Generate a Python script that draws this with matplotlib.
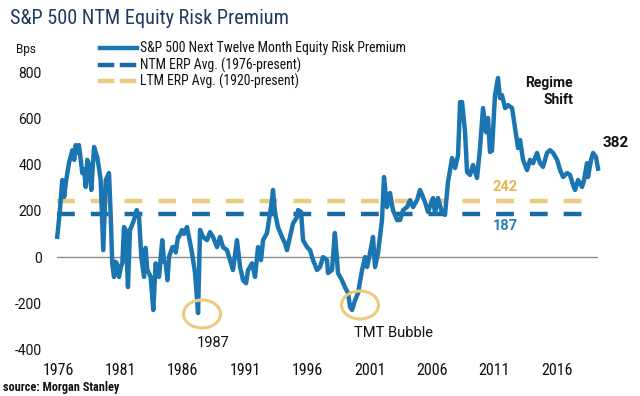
import matplotlib
matplotlib.use("Agg")
import matplotlib.pyplot as plt
from matplotlib.lines import Line2D
from matplotlib.patches import Ellipse
from matplotlib import font_manager

# ---- data ----
years = [
    1975.94, 1976.15, 1976.34, 1976.5, 1976.62, 1976.88, 1977.15, 1977.3, 1977.42, 1977.55, 1977.68,
    1977.95, 1978.1, 1978.22, 1978.35, 1978.49, 1978.67, 1978.89, 1979.15, 1979.3, 1979.42, 1979.63,
    1979.83, 1980.09, 1980.23, 1980.35, 1980.49, 1980.6, 1980.71, 1980.89, 1981.05, 1981.16, 1981.29,
    1981.43, 1981.61, 1981.77, 1981.95, 1982.09, 1982.31, 1982.5, 1982.68, 1982.9, 1983.02,
    1983.16, 1983.3, 1983.43, 1983.64, 1983.83, 1984.1, 1984.36, 1984.5, 1984.64, 1984.78, 1984.9,
    1985.17, 1985.38, 1985.44, 1985.62, 1985.7, 1985.94, 1986.1, 1986.34, 1986.5, 1986.75, 1986.99,
    1987.23, 1987.39, 1987.63, 1987.95, 1988.19, 1988.43, 1988.75, 1988.99, 1989.23, 1989.55,
    1989.79, 1990.03, 1990.35, 1990.6, 1990.84, 1991.08, 1991.24, 1991.56, 1991.8, 1992.04,
    1992.28, 1992.44, 1992.76, 1993.0, 1993.16, 1993.24, 1993.4, 1993.64, 1993.96, 1994.2,
    1994.36, 1994.6, 1994.85, 1995.17, 1995.25, 1995.49, 1995.65, 1995.97, 1996.21, 1996.45,
    1996.77, 1997.01, 1997.25, 1997.57, 1997.65, 1997.97, 1998.2, 1998.36, 1998.45, 1998.77,
    1999.01, 1999.26, 1999.42, 1999.58, 1999.82, 2000.06, 2000.38, 2000.62, 2000.78, 2001.02,
    2001.26, 2001.42, 2001.66, 2001.98, 2002.14, 2002.38, 2002.62, 2002.86, 2003.19, 2003.43,
    2003.67, 2003.99, 2004.23, 2004.47, 2004.79, 2005.03, 2005.43, 2005.67, 2006.07, 2006.23,
    2006.47, 2006.75, 2007.03, 2007.27, 2007.6, 2007.84, 2008.08, 2008.24, 2008.4, 2008.64,
    2008.8, 2009.04, 2009.28, 2009.6, 2009.84, 2010.08, 2010.32, 2010.48, 2010.64, 2010.8,
    2011.04, 2011.28, 2011.44, 2011.6, 2011.85, 2012.09, 2012.41, 2012.65, 2012.89, 2013.05,
    2013.29, 2013.61, 2013.85, 2014.09, 2014.41, 2014.65, 2014.89, 2015.21, 2015.45, 2015.7,
    2016.02, 2016.26, 2016.5, 2016.82, 2017.06, 2017.3, 2017.46, 2017.7, 2018.02, 2018.18,
    2018.42, 2018.5, 2018.74, 2018.9, 2019.14, 2019.3,
]
erp = [
    88, 200, 333, 260, 320, 406, 462, 420, 484, 450, 484,
    363, 380, 303, 420, 400, 290, 476, 432, 380, 333, 30,
    333, 363, 173, -27, -86, -20, -27, -86, -40, -27, 130,
    117, -130, 117, 140, 160, 203, 173, 0, -86, 40,
    -56, -70, -86, -229, -27, -86, 73, -20, -27, -100, 0,
    43, 43, 20, 87, 87, 117, 100, 130, 87, 17, -69,
    -242, 117, 87, 73, 108, 87, 43, 87, 43, 30,
    -13, -56, 73, -43, -100, -113, -56, -27, -86, 43,
    -13, 73, 104, 190, 246, 290, 190, 130, 87, 60,
    30, 87, 146, 173, 203, 195, 73, 43, 30, -13,
    -56, -43, 0, -13, -69, -56, 104, 0, -69, -100,
    -130, -156, -216, -229, -186, -156, -56, 0, -43, 17,
    87, -43, 17, 160, 346, 216, 277, 203, 160, 160,
    203, 216, 246, 216, 246, 290, 238, 195, 255, 190,
    255, 200, 182, 324, 428, 385, 441, 670, 670, 540,
    368, 355, 398, 342, 471, 644, 540, 601, 454, 460,
    700, 774, 687, 700, 644, 657, 644, 558, 471, 506,
    420, 376, 420, 406, 450, 406, 390, 450, 462, 450,
    420, 376, 346, 363, 355, 311, 290, 333, 303, 333,
    406, 346, 420, 450, 432, 382,
]
ntm_avg = 187
ltm_avg = 242
last_value = 382
yticks = [-400, -200, 0, 200, 400, 600, 800]
xticks = [1976, 1981, 1986, 1991, 1996, 2001, 2006, 2011, 2016]

BLUE = '#1b75b1'
DBLUE = '#1a6aa3'
TAN = '#ebcb80'
TANTXT = '#e3b651'
NAVY = '#1f3a60'

names = {f.name for f in font_manager.fontManager.ttflist}
COND = 'Roboto Condensed' if 'Roboto Condensed' in names else None
ROBO = ['Roboto', 'DejaVu Sans']
NARROW = [COND, 'Roboto', 'DejaVu Sans'] if COND else ROBO
t_size = 14.6 if COND else 13.5
l_size = 9.9 if COND else 9.0
x_size = 11.5 if COND else 10.5
s_size = 8.8 if COND else 7.6

plt.rcParams['font.family'] = ROBO

W, H = 640, 396
def fx(x): return x / W
def fy(y): return 1 - y / H

fig = plt.figure(figsize=(6.4, 3.96), dpi=100)
ax = fig.add_axes([fx(57), fy(349.6), fx(598) - fx(57), fy(72) - fy(349.6)])
ax.set_xlim(1975.92, 2019.3)
ax.set_ylim(-400, 800)
for s in ax.spines.values():
    s.set_visible(False)
ax.set_yticks(yticks)
ax.set_yticklabels([str(v) for v in yticks], fontsize=10, color='#111111')
ax.set_xticks(xticks)
ax.set_xticklabels([str(v) for v in xticks], fontsize=x_size, color='#111111', family=NARROW)
ax.tick_params(length=0)
ax.tick_params(axis='y', pad=11)
ax.tick_params(axis='x', pad=9.5)

ax.axhline(0, color='#8c8c8c', lw=1.0, zorder=1)
ax.plot([1975.92, 2018.55], [ltm_avg, ltm_avg], color=TAN, lw=3.2, dashes=(4, 3.6), zorder=2)
ax.plot([1975.92, 2018.55], [ntm_avg, ntm_avg], color=DBLUE, lw=3.2, dashes=(4, 3.6), zorder=2)
ax.plot(years, erp, color=BLUE, lw=3.2, solid_joinstyle='round', zorder=3, clip_on=False)

# title
fig.text(fx(10), fy(19), 'S&P 500 NTM Equity Risk Premium', fontsize=t_size, color=NAVY,
         va='center', ha='left', family=NARROW)
fig.text(fx(26), fy(50), 'Bps', fontsize=8.5, color='#111111', ha='center', va='center')

# legend
leg = [('S&P 500 Next Twelve Month Equity Risk Premium', BLUE, 'solid', 48),
       ('NTM ERP Avg. (1976-present)', DBLUE, 'dash', 65),
       ('LTM ERP Avg. (1920-present)', TAN, 'dash', 81)]
for label, col, st, y in leg:
    if st == 'solid':
        fig.add_artist(Line2D([fx(100), fx(137)], [fy(y), fy(y)], color=col, lw=3.2))
    else:
        fig.add_artist(Line2D([fx(100), fx(112)], [fy(y), fy(y)], color=col, lw=3.2))
        fig.add_artist(Line2D([fx(122), fx(134)], [fy(y), fy(y)], color=col, lw=3.2))
    fig.text(fx(140), fy(y), label, fontsize=l_size, color='#111111', va='center', ha='left',
             family=NARROW)

# annotations
fig.text(fx(573), fy(83), 'Regime', fontsize=10, fontweight='bold', color='#111111',
         ha='right', va='center')
fig.text(fx(573), fy(100), 'Shift', fontsize=10, fontweight='bold', color='#111111',
         ha='right', va='center')
fig.text(fx(603), fy(143), str(last_value), fontsize=11, fontweight='bold', color='#111111',
         ha='left', va='center')
fig.text(fx(505), fy(187), str(ltm_avg), fontsize=10.5, fontweight='bold', color=TANTXT,
         ha='center', va='center')
fig.text(fx(505), fy(226), str(ntm_avg), fontsize=10.5, fontweight='bold', color='#2a7db8',
         ha='center', va='center')
fig.text(fx(213), fy(343), '1987', fontsize=10.5, color='#111111', ha='center', va='center')
fig.text(fx(393), fy(333), 'TMT Bubble', fontsize=10.5, color='#111111', ha='center', va='center')

for cx, cy in [(202, 314), (360, 305)]:
    fig.add_artist(Ellipse((fx(cx), fy(cy)), 37 / W, 28 / H, fill=False, edgecolor=TAN, lw=2.2,
                           transform=fig.transFigure, zorder=5))

fig.text(fx(3), fy(388), 'source: Morgan Stanley', fontsize=s_size, fontweight='bold',
         color='#111111', ha='left', va='center', family=NARROW)

fig.savefig('out.png', dpi=100)
